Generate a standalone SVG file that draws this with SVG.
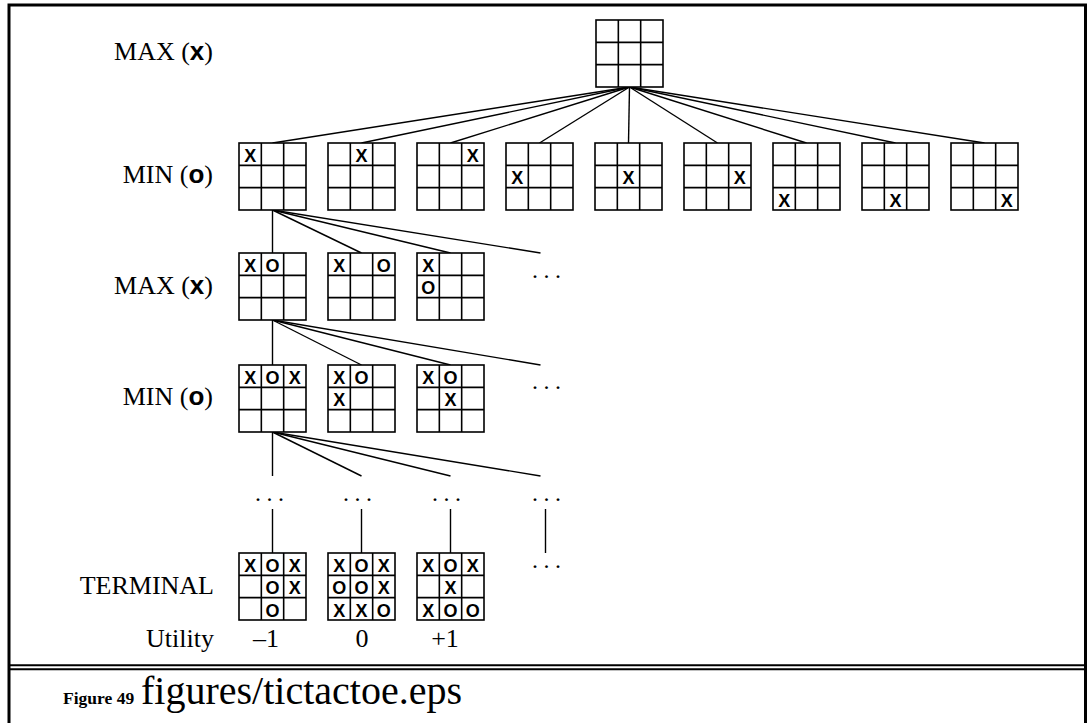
<svg xmlns="http://www.w3.org/2000/svg" xmlns:xlink="http://www.w3.org/1999/xlink" width="1087" height="723" viewBox="0 0 1087 723">
<style>
.frame{fill:none;stroke:#000;stroke-width:3}
.dbl{fill:none;stroke:#000;stroke-width:2}
.g{fill:#fff;stroke:#000;stroke-width:1.6}
.gl{stroke:#000;stroke-width:1.6}
.c line{stroke:#000;stroke-width:1.4}
.lbl{font-family:"Liberation Serif","Times New Roman",serif;font-size:26px;fill:#000}
.s{font-family:"Liberation Sans",Arial,sans-serif;font-weight:bold}
.m{font-family:"Liberation Sans",Arial,sans-serif;font-weight:bold;font-size:18px;text-anchor:middle;fill:#000}
.d{font-family:"Liberation Serif","Times New Roman",serif;font-size:24px;letter-spacing:5.5px;fill:#000}
.num{font-family:"Liberation Serif","Times New Roman",serif;font-size:26px;text-anchor:middle;fill:#000}
.fig{font-family:"Liberation Serif","Times New Roman",serif;font-weight:bold;font-size:17.5px;fill:#000}
.cap{font-family:"Liberation Serif","Times New Roman",serif;font-size:40px;fill:#000}
</style>
<defs>
<g id="grid">
<rect class="g" x="0" y="0" width="67" height="67"/>
<line class="gl" x1="22.33" y1="0" x2="22.33" y2="67"/>
<line class="gl" x1="44.67" y1="0" x2="44.67" y2="67"/>
<line class="gl" x1="0" y1="22.33" x2="67" y2="22.33"/>
<line class="gl" x1="0" y1="44.67" x2="67" y2="44.67"/>
</g>
</defs>
<rect x="0" y="0" width="1087" height="723" fill="#fff"/>
<path class="frame" d="M9,723 V5 H1085.5 V723"/>
<line class="dbl" x1="9" y1="665.3" x2="1086" y2="665.3"/>
<line class="dbl" x1="9" y1="669.3" x2="1086" y2="669.3"/>

<g id="connectors" class="c">
<line x1="629.5" y1="87" x2="272.5" y2="143"/>
<line x1="629.5" y1="87" x2="361.5" y2="143"/>
<line x1="629.5" y1="87" x2="450.5" y2="143"/>
<line x1="629.5" y1="87" x2="539.5" y2="143"/>
<line x1="629.5" y1="87" x2="628.5" y2="143"/>
<line x1="629.5" y1="87" x2="717.5" y2="143"/>
<line x1="629.5" y1="87" x2="806.5" y2="143"/>
<line x1="629.5" y1="87" x2="895.5" y2="143"/>
<line x1="629.5" y1="87" x2="984.5" y2="143"/>
<line x1="272.5" y1="210" x2="272.5" y2="253"/>
<line x1="272.5" y1="210" x2="361.5" y2="253"/>
<line x1="272.5" y1="210" x2="450.5" y2="253"/>
<line x1="272.5" y1="210" x2="540.5" y2="253"/>
<line x1="272.5" y1="320" x2="272.5" y2="365"/>
<line x1="272.5" y1="320" x2="361.5" y2="365"/>
<line x1="272.5" y1="320" x2="450.5" y2="365"/>
<line x1="272.5" y1="320" x2="540.5" y2="365"/>
<line x1="272.5" y1="432" x2="272.5" y2="476"/>
<line x1="272.5" y1="432" x2="361.5" y2="476"/>
<line x1="272.5" y1="432" x2="450.5" y2="476"/>
<line x1="272.5" y1="432" x2="540.5" y2="476"/>
<line x1="272.5" y1="509" x2="272.5" y2="553"/>
<line x1="361.5" y1="509" x2="361.5" y2="553"/>
<line x1="450.5" y1="509" x2="450.5" y2="553"/>
<line x1="545.5" y1="509" x2="545.5" y2="553"/>
</g>

<g id="labels">
<text class="lbl" x="213" y="60" text-anchor="end">MAX (<tspan class="s">x</tspan>)</text>
<text class="lbl" x="213" y="183" text-anchor="end">MIN (<tspan class="s">o</tspan>)</text>
<text class="lbl" x="213" y="294" text-anchor="end">MAX (<tspan class="s">x</tspan>)</text>
<text class="lbl" x="213" y="405" text-anchor="end">MIN (<tspan class="s">o</tspan>)</text>
<text class="lbl" x="214" y="594" text-anchor="end">TERMINAL</text>
<text class="lbl" x="214" y="647" text-anchor="end">Utility</text>
<text class="num" x="266" y="647">–1</text>
<text class="num" x="362" y="647">0</text>
<text class="num" x="445" y="647">+1</text>
</g>

<g id="root"><use xlink:href="#grid" x="596" y="20"/></g>

<g id="min1"><use xlink:href="#grid" x="239" y="143"/><text class="m" x="250.2" y="162">X</text></g>
<g id="min2"><use xlink:href="#grid" x="328" y="143"/><text class="m" x="361.5" y="162">X</text></g>
<g id="min3"><use xlink:href="#grid" x="417" y="143"/><text class="m" x="472.8" y="162">X</text></g>
<g id="min4"><use xlink:href="#grid" x="506" y="143"/><text class="m" x="517.2" y="184.3">X</text></g>
<g id="min5"><use xlink:href="#grid" x="595" y="143"/><text class="m" x="628.5" y="184.3">X</text></g>
<g id="min6"><use xlink:href="#grid" x="684" y="143"/><text class="m" x="739.8" y="184.3">X</text></g>
<g id="min7"><use xlink:href="#grid" x="773" y="143"/><text class="m" x="784.2" y="206.7">X</text></g>
<g id="min8"><use xlink:href="#grid" x="862" y="143"/><text class="m" x="895.5" y="206.7">X</text></g>
<g id="min9"><use xlink:href="#grid" x="951" y="143"/><text class="m" x="1006.8" y="206.7">X</text></g>

<g id="max2a"><use xlink:href="#grid" x="239" y="253"/><text class="m" x="250.2" y="272">X</text><text class="m" x="272.5" y="272">O</text></g>
<g id="max2b"><use xlink:href="#grid" x="328" y="253"/><text class="m" x="339.2" y="272">X</text><text class="m" x="383.8" y="272">O</text></g>
<g id="max2c"><use xlink:href="#grid" x="417" y="253"/><text class="m" x="428.2" y="272">X</text><text class="m" x="428.2" y="294.3">O</text></g>
<text class="d" x="532" y="278">...</text>

<g id="min3a"><use xlink:href="#grid" x="239" y="365"/><text class="m" x="250.2" y="384">X</text><text class="m" x="272.5" y="384">O</text><text class="m" x="294.8" y="384">X</text></g>
<g id="min3b"><use xlink:href="#grid" x="328" y="365"/><text class="m" x="339.2" y="384">X</text><text class="m" x="361.5" y="384">O</text><text class="m" x="339.2" y="406.3">X</text></g>
<g id="min3c"><use xlink:href="#grid" x="417" y="365"/><text class="m" x="428.2" y="384">X</text><text class="m" x="450.5" y="384">O</text><text class="m" x="450.5" y="406.3">X</text></g>
<text class="d" x="532" y="389">...</text>

<g id="ellipses">
<text class="d" x="255" y="501">...</text>
<text class="d" x="343" y="501">...</text>
<text class="d" x="432" y="501">...</text>
<text class="d" x="532" y="501">...</text>
<text class="d" x="532" y="568">...</text>
</g>

<g id="term1"><use xlink:href="#grid" x="239" y="553"/>
<text class="m" x="250.2" y="572">X</text><text class="m" x="272.5" y="572">O</text><text class="m" x="294.8" y="572">X</text>
<text class="m" x="272.5" y="594.3">O</text><text class="m" x="294.8" y="594.3">X</text>
<text class="m" x="272.5" y="616.7">O</text></g>
<g id="term2"><use xlink:href="#grid" x="328" y="553"/>
<text class="m" x="339.2" y="572">X</text><text class="m" x="361.5" y="572">O</text><text class="m" x="383.8" y="572">X</text>
<text class="m" x="339.2" y="594.3">O</text><text class="m" x="361.5" y="594.3">O</text><text class="m" x="383.8" y="594.3">X</text>
<text class="m" x="339.2" y="616.7">X</text><text class="m" x="361.5" y="616.7">X</text><text class="m" x="383.8" y="616.7">O</text></g>
<g id="term3"><use xlink:href="#grid" x="417" y="553"/>
<text class="m" x="428.2" y="572">X</text><text class="m" x="450.5" y="572">O</text><text class="m" x="472.8" y="572">X</text>
<text class="m" x="450.5" y="594.3">X</text>
<text class="m" x="428.2" y="616.7">X</text><text class="m" x="450.5" y="616.7">O</text><text class="m" x="472.8" y="616.7">O</text></g>

<g id="caption">
<text class="fig" x="63" y="704">Figure 49</text>
<text class="cap" x="141" y="704">figures/tictactoe.eps</text>
</g>
</svg>
